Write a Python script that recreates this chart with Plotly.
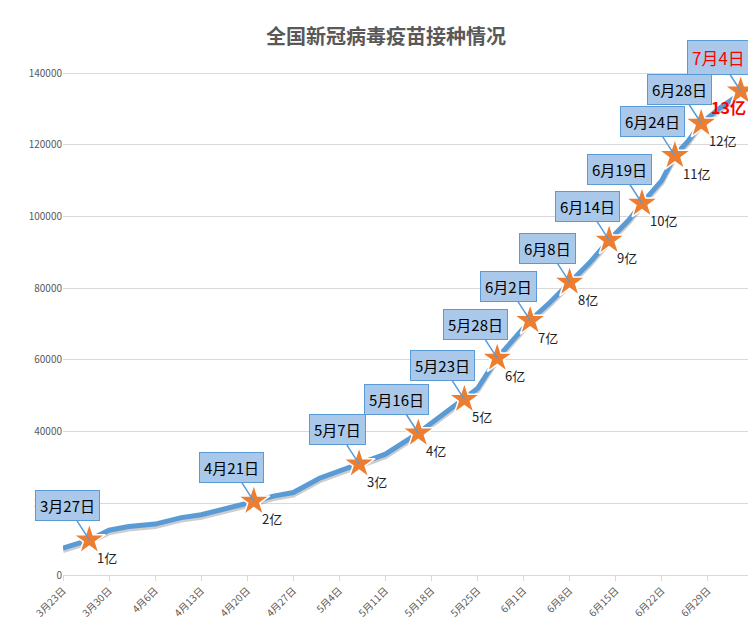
import plotly.graph_objects as go

line_dates = ["2021-03-23","2021-03-27","2021-03-30","2021-04-02","2021-04-06","2021-04-10","2021-04-13","2021-04-17",
              "2021-04-20","2021-04-24","2021-04-27","2021-05-01","2021-05-04","2021-05-07","2021-05-11","2021-05-16",
              "2021-05-18","2021-05-23","2021-05-25","2021-05-28","2021-06-01","2021-06-02","2021-06-05","2021-06-08",
              "2021-06-11","2021-06-14","2021-06-17","2021-06-19","2021-06-22","2021-06-24","2021-06-26","2021-06-28",
              "2021-07-01","2021-07-03"]
line_vals = [7500,9800,12500,13500,14200,16000,16800,18500,
             20000,22000,23000,27000,29000,31000,33700,39600,
             42400,49000,52000,60500,69000,71000,76000,81700,
             87000,93400,99000,103700,110000,117000,121000,126000,
             130500,133000]

star_dates = ["2021-03-27","2021-04-21","2021-05-07","2021-05-16","2021-05-23","2021-05-28","2021-06-02",
              "2021-06-08","2021-06-14","2021-06-19","2021-06-24","2021-06-28","2021-07-04"]
star_vals = [9800,20600,31000,39600,49000,60500,71000,81700,93400,103700,117000,126000,135000]
star_labels = ["3月27日","4月21日","5月7日","5月16日","5月23日","5月28日","6月2日",
               "6月8日","6月14日","6月19日","6月24日","6月28日","7月4日"]
yi_labels = ["1亿","2亿","3亿","4亿","5亿","6亿","7亿","8亿","9亿","10亿","11亿","12亿","13亿"]

tick_vals = ["2021-03-23","2021-03-30","2021-04-06","2021-04-13","2021-04-20","2021-04-27","2021-05-04",
             "2021-05-11","2021-05-18","2021-05-25","2021-06-01","2021-06-08","2021-06-15","2021-06-22","2021-06-29"]
tick_text = ["3月23日","3月30日","4月6日","4月13日","4月20日","4月27日","5月4日",
             "5月11日","5月18日","5月25日","6月1日","6月8日","6月15日","6月22日","6月29日"]

FONT = "Noto Sans CJK SC"
fig = go.Figure()
fig.add_trace(go.Scatter(x=line_dates, y=[v - 700 for v in line_vals], mode="lines",
                         line=dict(color="rgba(90,90,90,0.3)", width=5), hoverinfo="skip"))
fig.add_trace(go.Scatter(x=line_dates, y=line_vals, mode="lines",
                         line=dict(color="#5B9BD5", width=5)))
fig.add_trace(go.Scatter(x=star_dates, y=star_vals, mode="markers",
                         marker=dict(symbol="star", size=24, color="#ED7D31", line=dict(color="white", width=1.5))))

for i, (d, v, lab, yl) in enumerate(zip(star_dates, star_vals, star_labels, yi_labels)):
    last = i == len(star_dates) - 1
    fig.add_annotation(x=d, y=v, text=lab, showarrow=True, arrowhead=0, arrowwidth=1.5,
                       arrowcolor="#5B9BD5", ax=-22, ay=-34,
                       bgcolor="#A9C8EA", bordercolor="#5B9BD5", borderwidth=1, borderpad=4,
                       font=dict(family=FONT, size=15 if not last else 17,
                                 color="black" if not last else "red"))
    fig.add_annotation(x=d, y=v, text=yl if not last else "<b>13亿</b>", showarrow=False,
                       xanchor="left", yanchor="top",
                       xshift=6 if not last else -32, yshift=-6 if not last else -2,
                       font=dict(family=FONT, size=13 if not last else 16,
                                 color="#222" if not last else "red"))
fig.update_layout(
    width=756, height=626, showlegend=False, plot_bgcolor="white", paper_bgcolor="white",
    margin=dict(l=55, r=14, t=45, b=59, autoexpand=False),
    title=dict(text="<b>全国新冠病毒疫苗接种情况</b>", x=0.5, y=0.965, xanchor="center",
               font=dict(family=FONT, size=20, color="#595959")),
    font=dict(family=FONT, color="#595959", size=10),
    xaxis=dict(type="date", range=["2021-03-23", "2021-07-05 10:00"], tickvals=tick_vals, ticktext=tick_text,
               tickangle=-45, showgrid=False, showline=True, linecolor="#D9D9D9", ticks="outside",
               tickcolor="#D9D9D9", ticklen=5, tickfont=dict(size=10)),
    yaxis=dict(range=[0, 145600], tickvals=list(range(0, 140001, 20000)), tickformat="d", gridcolor="#D9D9D9",
               zeroline=False, ticksuffix="  ", tickfont=dict(size=10)),
)
fig.write_html("out.html")
